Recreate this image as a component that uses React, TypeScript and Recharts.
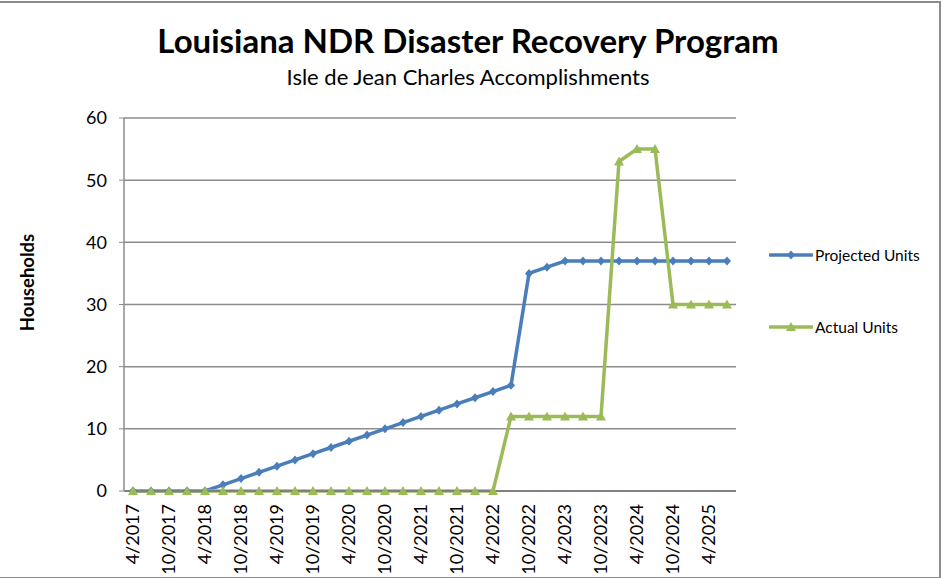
import { CartesianGrid, Legend, Line, LineChart, XAxis, YAxis } from "recharts";

const quarters = [
  "4/2017", "7/2017", "10/2017",
  "1/2018", "4/2018", "7/2018", "10/2018",
  "1/2019", "4/2019", "7/2019", "10/2019",
  "1/2020", "4/2020", "7/2020", "10/2020",
  "1/2021", "4/2021", "7/2021", "10/2021",
  "1/2022", "4/2022", "7/2022", "10/2022",
  "1/2023", "4/2023", "7/2023", "10/2023",
  "1/2024", "4/2024", "7/2024", "10/2024",
  "1/2025", "4/2025", "7/2025",
];

const projectedUnits = [
  0, 0, 0, 0, 0, 1, 2, 3, 4, 5, 6, 7, 8, 9, 10, 11, 12, 13, 14, 15, 16, 17,
  35, 36, 37, 37, 37, 37, 37, 37, 37, 37, 37, 37,
];

const actualUnits = [
  0, 0, 0, 0, 0, 0, 0, 0, 0, 0, 0, 0, 0, 0, 0, 0, 0, 0, 0, 0, 0, 12,
  12, 12, 12, 12, 12, 53, 55, 55, 30, 30, 30, 30,
];

const yTicks = [0, 10, 20, 30, 40, 50, 60];

const BLUE = "#4A7EBB";
const GREEN = "#9BBB59";
const FONT = "Lato, 'Noto Sans', sans-serif";

const data = quarters.map((q, i) => ({
  quarter: q,
  projected: projectedUnits[i],
  actual: actualUnits[i],
}));

const Diamond = ({ cx, cy, fill }: any) => (
  <path d={`M${cx},${cy - 4.5}L${cx + 4},${cy}L${cx},${cy + 4.5}L${cx - 4},${cy}Z`} fill={fill} />
);

const Triangle = ({ cx, cy, fill }: any) => (
  <path d={`M${cx},${cy - 5}L${cx + 5},${cy + 4}L${cx - 5},${cy + 4}Z`} fill={fill} />
);

const renderDiamond = (props: any) => {
  if (props.cx == null || props.cy == null) return <g key={`pd-${props.index}`} />;
  return <Diamond key={`pd-${props.index}`} cx={props.cx} cy={props.cy} fill={BLUE} />;
};

const renderTriangle = (props: any) => {
  if (props.cx == null || props.cy == null) return <g key={`ad-${props.index}`} />;
  return <Triangle key={`ad-${props.index}`} cx={props.cx} cy={props.cy} fill={GREEN} />;
};

const QuarterTick = ({ x, y, payload }: any) => (
  <g transform={`translate(${x},${y})`}>
    <text
      transform="rotate(-90)"
      textAnchor="end"
      dy="0.35em"
      x={-5}
      fill="#000"
      fontSize={18}
      fontFamily={FONT}
    >
      {payload.value}
    </text>
  </g>
);

const legendItems = [
  { name: "Projected Units", color: BLUE, marker: "diamond" },
  { name: "Actual Units", color: GREEN, marker: "triangle" },
];

const renderLegend = () => (
  <div style={{ fontFamily: FONT, fontSize: 15.5, color: "#000" }}>
    {legendItems.map((item) => (
      <div
        key={item.name}
        style={{ display: "flex", alignItems: "center", height: 20, marginBottom: 52 }}
      >
        <svg width={44} height={14} style={{ marginRight: 2 }}>
          <line x1={1} y1={7} x2={43} y2={7} stroke={item.color} strokeWidth={3.5} strokeLinecap="round" />
          {item.marker === "diamond" ? (
            <Diamond cx={22} cy={7} fill={item.color} />
          ) : (
            <Triangle cx={22} cy={7} fill={item.color} />
          )}
        </svg>
        <span>{item.name}</span>
      </div>
    ))}
  </div>
);

export default function App() {
  return (
    <div
      style={{
        position: "absolute",
        left: 0,
        top: 0,
        width: 941,
        height: 578,
        background: "#fff",
        fontFamily: FONT,
      }}
    >
      {/* frame */}
      <div
        style={{
          position: "absolute",
          left: -2,
          top: 1,
          width: 939,
          height: 574,
          border: "2px solid #8c8c8c",
        }}
      />
      <div
        style={{
          position: "absolute",
          left: 0,
          width: 936,
          top: 19,
          textAlign: "center",
          fontSize: 33,
          fontWeight: 700,
          lineHeight: "42px",
        }}
      >
        Louisiana NDR Disaster Recovery Program
      </div>
      <div
        style={{
          position: "absolute",
          left: 0,
          width: 936,
          top: 62,
          textAlign: "center",
          fontSize: 22,
          lineHeight: "30px",
        }}
      >
        Isle de Jean Charles Accomplishments
      </div>

      <LineChart
        width={941}
        height={578}
        data={data}
        margin={{ top: 118, right: 205, bottom: 0, left: 60 }}
        style={{ position: "absolute", left: 0, top: 0 }}
      >
        <CartesianGrid vertical={false} stroke="#8c8c8c" strokeWidth={1.5} />
        <XAxis
          dataKey="quarter"
          interval={1}
          tick={<QuarterTick />}
          tickLine={false}
          axisLine={{ stroke: "#7f7f7f", strokeWidth: 2 }}
          padding={{ left: 9, right: 9 }}
          height={87}
        />
        <YAxis
          domain={[0, 60]}
          ticks={yTicks}
          interval={0}
          width={64}
          tickSize={5}
          tickMargin={12}
          tickLine={{ stroke: "#8c8c8c" }}
          axisLine={{ stroke: "#8c8c8c", strokeWidth: 1.5 }}
          tick={{ fill: "#000", fontSize: 18, fontFamily: FONT }}
          label={{
            value: "Households",
            angle: -90,
            position: "insideLeft",
            offset: 0,
            dx: -33,
            dy: -22,
            style: { fontWeight: 700, fontSize: 18.5, fill: "#000", fontFamily: FONT, textAnchor: "middle" },
          }}
        />
        <Legend
          layout="horizontal"
          verticalAlign="middle"
          content={renderLegend}
          wrapperStyle={{ position: "absolute", left: 769, top: 245, width: 170, height: 120 }}
        />
        <Line
          type="linear"
          dataKey="projected"
          name="Projected Units"
          stroke={BLUE}
          strokeWidth={3.5}
          dot={renderDiamond}
          activeDot={false}
          isAnimationActive={false}
        />
        <Line
          type="linear"
          dataKey="actual"
          name="Actual Units"
          stroke={GREEN}
          strokeWidth={3.5}
          dot={renderTriangle}
          activeDot={false}
          isAnimationActive={false}
        />
      </LineChart>
    </div>
  );
}
